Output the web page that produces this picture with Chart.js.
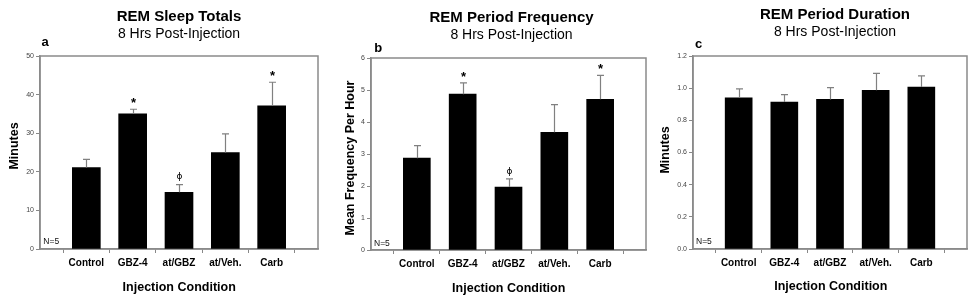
<!DOCTYPE html>
<html><head><meta charset="utf-8">
<script src="https://cdn.jsdelivr.net/npm/chart.js@4/dist/chart.umd.min.js"></script>
<style>
html,body{margin:0;padding:0;background:#fff;width:975px;height:301px;overflow:hidden}
.p{position:absolute;top:0;width:325px;height:301px}
canvas{display:block}
</style></head><body>
<div class="p" style="left:0"><canvas id="ca" width="325" height="301"></canvas></div>
<div class="p" style="left:325px"><canvas id="cb" width="325" height="301"></canvas></div>
<div class="p" style="left:650px"><canvas id="cc" width="325" height="301"></canvas></div>
<script>
// ---- data ----
const categories = ['Control', 'GBZ-4', 'at/GBZ', 'at/Veh.', 'Carb'];

const totalsMean = [21.1, 35.0, 14.7, 25.0, 37.1];
const totalsSem  = [2.1, 1.2, 2.0, 4.8, 6.1];
const totalsMarks = ['', '*', 'ϕ', '', '*'];
const totalsTicks = [0, 10, 20, 30, 40, 50];

const freqMean = [2.87, 4.87, 1.97, 3.68, 4.71];
const freqSem  = [0.39, 0.35, 0.25, 0.86, 0.75];
const freqMarks = ['', '*', 'ϕ', '', '*'];
const freqTicks = [0, 1, 2, 3, 4, 5, 6];

const durMean = [0.94, 0.914, 0.93, 0.987, 1.007];
const durSem  = [0.055, 0.046, 0.073, 0.105, 0.069];
const durMarks = ['', '', '', '', ''];
const durTicks = [0.0, 0.2, 0.4, 0.6, 0.8, 1.0, 1.2];

const FONT = '"Liberation Sans", Arial, "DejaVu Sans", sans-serif';

function txt(ctx, s, x, y, font, align, base, color) {
  ctx.save();
  ctx.font = font; ctx.textAlign = align; ctx.textBaseline = base; ctx.fillStyle = color || '#000';
  ctx.fillText(s, x, y);
  ctx.restore();
}

function makePanel(id, cfg) {
  const L = cfg.layout;
  const annot = {
    id: 'annot',
    beforeDatasetsDraw(chart) {
      const ctx = chart.ctx, a = chart.chartArea;
      ctx.save();
      ctx.strokeStyle = '#8a8a8a'; ctx.lineWidth = 1.5;
      ctx.strokeRect(a.left, a.top, a.right - a.left, a.bottom - a.top);
      ctx.restore();
    },
    afterDatasetsDraw(chart) {
      const ctx = chart.ctx, xs = chart.scales.x, ys = chart.scales.y;
      ctx.save();
      ctx.strokeStyle = '#808080'; ctx.lineWidth = 1.2;
      cfg.mean.forEach((m, i) => {
        const x = Math.round(xs.getPixelForValue(i + 1)) + 0.5;
        const yb = ys.getPixelForValue(m);
        const yt = ys.getPixelForValue(m + cfg.sem[i]);
        ctx.beginPath();
        ctx.moveTo(x, yb); ctx.lineTo(x, yt);
        ctx.moveTo(x - 3.5, yt); ctx.lineTo(x + 3.5, yt);
        ctx.stroke();
        const mk = cfg.marks[i];
        if (mk === '*') {
          txt(ctx, mk, x, yt - 9.5 + 0.57 * 13, 'bold 13px ' + FONT, 'center', 'alphabetic', '#000');
        } else if (mk) {
          txt(ctx, mk, x, yt - 7.5, '9px "DejaVu Sans", sans-serif', 'center', 'middle', '#000');
        }
      });
      ctx.restore();
      // texts
      txt(ctx, cfg.title, L.tx, L.ty, 'bold 15px ' + FONT, 'center', 'middle');
      txt(ctx, '8 Hrs Post-Injection', L.tx, L.sy, '14px ' + FONT, 'center', 'middle');
      txt(ctx, cfg.letter, L.lx, L.ly, 'bold 13px ' + FONT, 'left', 'alphabetic');
      txt(ctx, 'N=5', L.nx, L.ny, '8.5px ' + FONT, 'left', 'alphabetic', '#111');
      txt(ctx, 'Injection Condition', L.xtx, L.xty, 'bold 12.5px ' + FONT, 'center', 'middle');
      ctx.save();
      ctx.translate(L.ytx, L.yty); ctx.rotate(-Math.PI / 2);
      txt(ctx, cfg.yTitle, 0, 0, 'bold 12.5px ' + FONT, 'center', 'middle');
      ctx.restore();
    }
  };
  return new Chart(document.getElementById(id), {
    type: 'bar',
    data: {
      labels: ['', ...categories, ''],
      datasets: [{ data: [null, ...cfg.mean, null], backgroundColor: '#000', borderWidth: 0, barThickness: cfg.barW }]
    },
    options: {
      responsive: false, animation: false, devicePixelRatio: 1,
      layout: { padding: { left: 0, top: L.top, right: 325 - L.right, bottom: 0 } },
      plugins: { legend: { display: false }, tooltip: { enabled: false }, title: { display: false } },
      scales: {
        x: {
          offset: false,
          grid: { display: true, drawOnChartArea: false, drawTicks: true, tickLength: 4, color: '#888', lineWidth: 1 },
          border: { display: true, color: '#8a8a8a', width: 1.5 },
          ticks: { autoSkip: false, maxRotation: 0, minRotation: 0, padding: 4, color: '#000', font: { family: FONT, size: 10, weight: 'bold' } },
          afterFit(s) { s.height = 301 - L.bottom; }
        },
        y: {
          min: cfg.ticks[0], max: cfg.ticks[cfg.ticks.length - 1],
          afterBuildTicks(s) { s.ticks = cfg.ticks.map(v => ({ value: v })); },
          grid: { display: true, drawOnChartArea: false, drawTicks: true, tickLength: 4, color: '#888' },
          border: { display: true, color: '#8a8a8a', width: 1.5 },
          ticks: { padding: 2, color: '#444', font: { family: FONT, size: 7 }, callback: v => cfg.fmt(v) },
          afterFit(s) { s.width = L.left; }
        }
      }
    },
    plugins: [annot]
  });
}

makePanel('ca', {
  mean: totalsMean, sem: totalsSem, marks: totalsMarks, ticks: totalsTicks, fmt: v => String(v),
  title: 'REM Sleep Totals', letter: 'a', yTitle: 'Minutes', barW: 28,
  layout: { left: 40, right: 318, top: 56, bottom: 249, tx: 179, ty: 17.3, sy: 34.5, lx: 41.5, ly: 46,
            nx: 43.3, ny: 244.3, xtx: 179.2, xty: 287.2, ytx: 14.5, yty: 146 }
});
makePanel('cb', {
  mean: freqMean, sem: freqSem, marks: freqMarks, ticks: freqTicks, fmt: v => String(v),
  title: 'REM Period Frequency', letter: 'b', yTitle: 'Mean Frequency Per Hour', barW: 27,
  layout: { left: 46, right: 321, top: 58, bottom: 250, tx: 186.5, ty: 18.3, sy: 35.3, lx: 49.3, ly: 51.5,
            nx: 49, ny: 245.7, xtx: 183.7, xty: 288.3, ytx: 26, yty: 158 }
});
makePanel('cc', {
  mean: durMean, sem: durSem, marks: durMarks, ticks: durTicks, fmt: v => v.toFixed(1),
  title: 'REM Period Duration', letter: 'c', yTitle: 'Minutes', barW: 27,
  layout: { left: 43, right: 317, top: 56, bottom: 249, tx: 185, ty: 14.5, sy: 31.7, lx: 45, ly: 48.3,
            nx: 46, ny: 244, xtx: 180.8, xty: 286.7, ytx: 15.5, yty: 150 }
});
</script>
</body></html>
